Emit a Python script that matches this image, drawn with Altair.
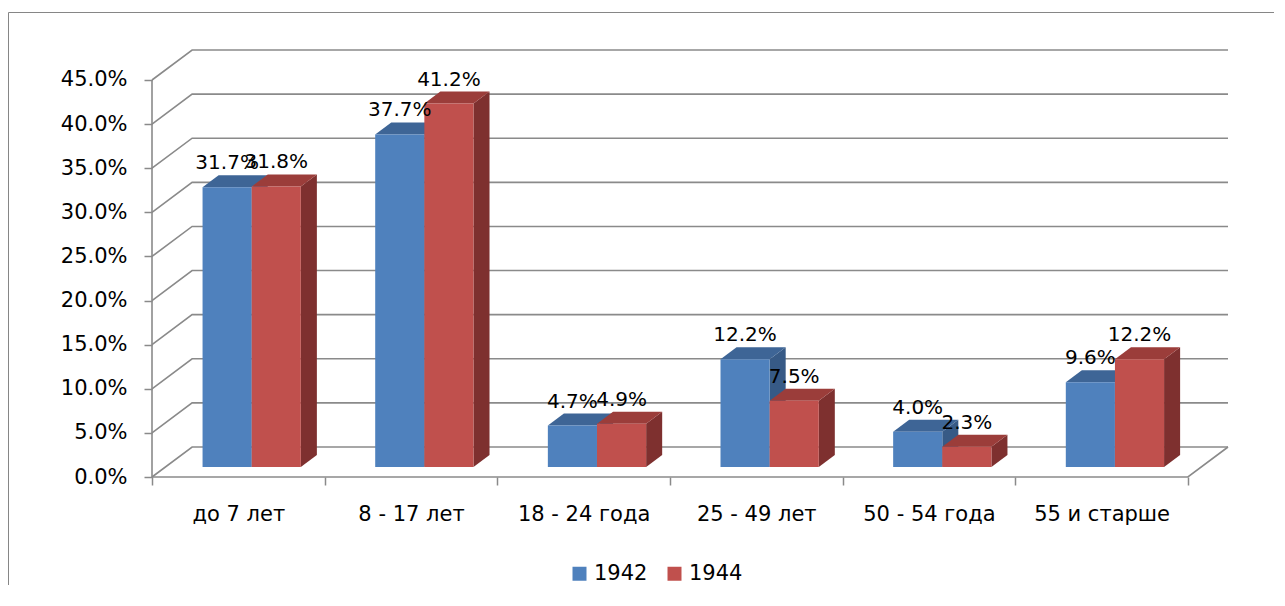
import json
import altair as alt
import pandas as pd

# ---------------- data ----------------
CATEGORIES = ["до 7 лет", "8 - 17 лет", "18 - 24 года", "25 - 49 лет", "50 - 54 года", "55 и старше"]
SERIES = ["1942", "1944"]
VALUES_1942 = [31.7, 37.7, 4.7, 12.2, 4.0, 9.6]
VALUES_1944 = [31.8, 41.2, 4.9, 7.5, 2.3, 12.2]
Y_TICKS = [0, 5, 10, 15, 20, 25, 30, 35, 40, 45]
TITLE = "(данные на 1 января)"

# ---------------- styling / 3-D geometry ----------------
FRONT = {"1942": "#4F81BD", "1944": "#C0504D"}
TOP = {"1942": "#3E6596", "1944": "#9B3D3A"}
SIDE = {"1942": "#375A86", "1944": "#7E302F"}
GRID = "#8a8a8a"
FONT = "DejaVu Sans"

N = len(CATEGORIES)
DX = 0.2323          # depth of the floor in category units
DY = 3.40            # depth of the floor in percent units
ZF = 1.0 / 3.0       # depth fraction of the bars' front face
ZB = ZF + 0.4        # depth fraction of the bars' back face
BW = 0.2846          # bar width in category units
YMAX = Y_TICKS[-1]

W, H = 1076, 427
xs = alt.Scale(domain=[0, N + DX], nice=False, zero=False)
ys = alt.Scale(domain=[0, YMAX + DY], nice=False, zero=False)

values = {"1942": VALUES_1942, "1944": VALUES_1944}

front_rows, top_rows, side_rows, label_rows = [], [], [], []
for i, cat in enumerate(CATEGORIES):
    for s, ser in enumerate(SERIES):
        v = values[ser][i]
        xl = i + 0.5 + ZF * DX - BW + s * BW
        xr = xl + BW
        fid = f"{ser}-{i}"
        front_rows.append(dict(series=ser, cat=cat, x=xl, x2=xr, y=ZF * DY, y2=v + ZF * DY))
        for z in (ZF, ZB):
            top_rows.append(dict(series=ser, face=fid, y=v + z * DY,
                                 x=xl + (z - ZF) * DX, x2=xr + (z - ZF) * DX))
            side_rows.append(dict(series=ser, face=fid, x=xr + (z - ZF) * DX, y=z * DY, y2=v + z * DY))
        label_rows.append(dict(series=ser, x=(xl + xr) / 2, y=v + ZF * DY, text=f"{v:.1f}%"))

front_df = pd.DataFrame(front_rows)
top_df = pd.DataFrame(top_rows)
side_df = pd.DataFrame(side_rows)
label_df = pd.DataFrame(label_rows)

grid_rows = []
for v in Y_TICKS:
    for k, (gx, gy) in enumerate([(0, v), (DX, v + DY), (N + DX, v + DY)]):
        grid_rows.append(dict(line=f"g{v}", k=k, x=gx, y=gy))
for k, (gx, gy) in enumerate([(0, 0), (N, 0), (N + DX, DY)]):
    grid_rows.append(dict(line="floor", k=k, x=gx, y=gy))
for k, (gx, gy) in enumerate([(0, 0), (0, YMAX)]):
    grid_rows.append(dict(line="axis", k=k, x=gx, y=gy))
grid_df = pd.DataFrame(grid_rows)

names_js = json.dumps(CATEGORIES, ensure_ascii=False)
x_tick_values = [i * 0.5 for i in range(2 * N + 1)]

x_axis = alt.Axis(
    values=x_tick_values,
    labelExpr=f"(datum.value % 1) == 0.5 ? {names_js}[floor(datum.value)] : ''",
    tickOpacity={"condition": {"test": "(datum.value % 1) != 0", "value": 0}, "value": 1},
    tickSize=8, tickColor=GRID, tickWidth=1.5,
    domain=False, grid=False, title=None,
    labelFont=FONT, labelFontSize=21, labelColor="#000000",
    labelPadding=18, labelFlush=False, labelOverlap=False,
)
y_axis = alt.Axis(
    values=Y_TICKS,
    labelExpr="format(datum.value, '.1f') + '%'",
    tickSize=8, tickColor=GRID, tickWidth=1.5,
    domain=False, grid=False, title=None,
    labelFont=FONT, labelFontSize=21, labelColor="#000000",
    labelPadding=17, labelOverlap=False,
)


def X(field, **kw):
    return alt.X(field, scale=xs, axis=x_axis, **kw)


def Y(field, **kw):
    return alt.Y(field, scale=ys, axis=y_axis, **kw)


frame = alt.Chart(pd.DataFrame({"a": [0]})).mark_rect(
    filled=False, stroke="#868686", strokeWidth=1
).encode(x=alt.value(-143.5), x2=alt.value(1500), y=alt.value(-37.5), y2=alt.value(900))

grid = alt.Chart(grid_df).mark_line(color=GRID, strokeWidth=1.6).encode(
    x=X("x:Q"),
    y=Y("y:Q"),
    detail="line:N",
    order="k:Q",
)


def sides(ser):
    return alt.Chart(side_df[side_df.series == ser]).mark_area(
        orient="vertical", color=SIDE[ser]
    ).encode(
        x=X("x:Q"),
        y=Y("y:Q", stack=None),
        y2="y2:Q",
        detail="face:N",
    )


def tops(ser):
    return alt.Chart(top_df[top_df.series == ser]).mark_area(
        orient="horizontal", color=TOP[ser]
    ).encode(
        y=Y("y:Q"),
        x=X("x:Q", stack=None),
        x2="x2:Q",
        detail="face:N",
    )


fronts = alt.Chart(front_df).mark_rect().encode(
    x=X("x:Q"),
    x2="x2:Q",
    y=Y("y:Q"),
    y2="y2:Q",
    color=alt.Color(
        "series:N",
        scale=alt.Scale(domain=SERIES, range=[FRONT[s] for s in SERIES]),
        legend=alt.Legend(
            orient="none", legendX=417, legendY=513, direction="horizontal",
            title=None, symbolType="square", symbolSize=196, symbolStrokeWidth=0,
            labelFont=FONT, labelFontSize=21, labelColor="#000000",
            labelOffset=4, columnPadding=16, padding=0,
        ),
    ),
)

labels = alt.Chart(label_df).mark_text(
    baseline="alphabetic", align="center", dy=-18, font=FONT, fontSize=20, color="#000000"
).encode(
    x=X("x:Q"),
    y=Y("y:Q"),
    text="text:N",
)

chart = alt.layer(
    frame, grid, sides("1942"), sides("1944"), tops("1942"), tops("1944"), fronts, labels
).properties(
    width=W,
    height=H,
    background="#ffffff",
    title=alt.TitleParams(
        TITLE, font="Liberation Serif", fontWeight="bold", fontSize=22, color="#000000",
        anchor="middle", frame="group", offset=36, dx=-120, baseline="alphabetic",
    ),
    padding={"left": 144, "top": 42, "right": 46, "bottom": 108},
    autosize=alt.AutoSizeParams(type="none"),
).configure_view(stroke=None)

chart.save("out.html", embed_options={"renderer": "svg", "actions": False})
